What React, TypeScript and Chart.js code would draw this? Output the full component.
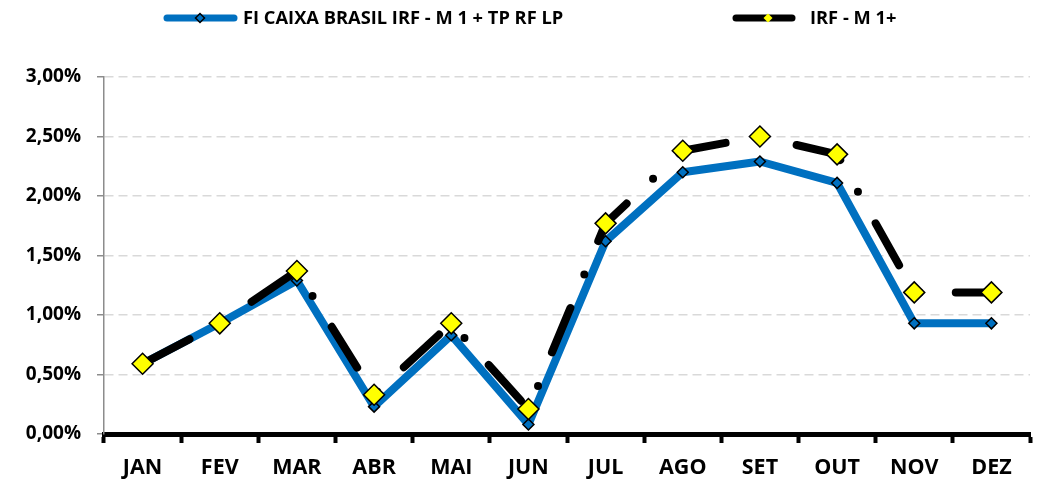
import React, { useEffect, useRef } from 'react';
import { Chart, registerables } from 'chart.js';

Chart.register(...registerables);

const months = ['JAN', 'FEV', 'MAR', 'ABR', 'MAI', 'JUN', 'JUL', 'AGO', 'SET', 'OUT', 'NOV', 'DEZ'];
const fundValues = [0.59, 0.93, 1.29, 0.23, 0.83, 0.08, 1.62, 2.2, 2.29, 2.11, 0.93, 0.93];
const benchmarkValues = [0.59, 0.93, 1.37, 0.33, 0.93, 0.21, 1.77, 2.38, 2.5, 2.35, 1.19, 1.19];
const yMin = 0;
const yMax = 3;
const yStep = 0.5;
const fundLabel = 'FI CAIXA BRASIL IRF - M 1 + TP RF LP';
const benchLabel = 'IRF - M 1+';

const BLUE = '#0070C0';
const YELLOW = '#FFFF00';
const FONT = '"Open Sans", "DejaVu Sans", sans-serif';

function diamond(ctx: CanvasRenderingContext2D, x: number, y: number, r: number, fill: string, stroke: string, lw: number) {
  ctx.beginPath();
  ctx.moveTo(x - r, y);
  ctx.lineTo(x, y - r);
  ctx.lineTo(x + r, y);
  ctx.lineTo(x, y + r);
  ctx.closePath();
  ctx.fillStyle = fill;
  ctx.fill();
  if (lw > 0) {
    ctx.lineWidth = lw;
    ctx.strokeStyle = stroke;
    ctx.stroke();
  }
}

const legendPlugin = {
  id: 'customLegend',
  afterDraw(chart: any) {
    const ctx: CanvasRenderingContext2D = chart.ctx;
    ctx.save();
    const ly = 18;
    ctx.lineCap = 'round';
    // item 1
    ctx.strokeStyle = BLUE;
    ctx.lineWidth = 7;
    ctx.beginPath();
    ctx.moveTo(167, ly);
    ctx.lineTo(234, ly);
    ctx.stroke();
    diamond(ctx, 200, ly, 4.5, BLUE, '#000', 1.5);
    // item 2
    ctx.strokeStyle = '#000';
    ctx.lineWidth = 7;
    ctx.beginPath();
    ctx.moveTo(736, ly);
    ctx.lineTo(792, ly);
    ctx.stroke();
    diamond(ctx, 768, ly, 4.5, YELLOW, '#000', 0);
    ctx.fillStyle = '#000';
    ctx.textBaseline = 'middle';
    ctx.textAlign = 'left';
    ctx.font = `bold 18.3px ${FONT}`;
    ctx.fillText(fundLabel, 243, ly + 1);
    ctx.fillText(benchLabel, 810, ly + 1);
    ctx.restore();
  },
};

export default function App() {
  const ref = useRef<HTMLCanvasElement | null>(null);

  useEffect(() => {
    if (!ref.current) return;
    const chart = new Chart(ref.current, {
      type: 'line',
      data: {
        labels: months,
        datasets: [
          {
            label: fundLabel,
            data: fundValues,
            borderColor: BLUE,
            backgroundColor: BLUE,
            borderWidth: 8,
            borderCapStyle: 'round',
            borderJoinStyle: 'round',
            tension: 0,
            pointStyle: 'rectRot',
            pointRadius: 5.5,
            pointBackgroundColor: BLUE,
            pointBorderColor: '#000',
            pointBorderWidth: 1.5,
            order: 2,
          },
          {
            label: benchLabel,
            data: benchmarkValues,
            borderColor: '#000',
            backgroundColor: '#000',
            borderWidth: 8,
            borderDash: [48, 36.3, 0, 36.3],
            borderDashOffset: -5,
            borderCapStyle: 'round',
            borderJoinStyle: 'round',
            tension: 0,
            pointStyle: 'rectRot',
            pointRadius: 10.5,
            pointBackgroundColor: YELLOW,
            pointBorderColor: '#000',
            pointBorderWidth: 1.5,
            order: 1,
          },
        ],
      },
      options: {
        animation: false,
        responsive: false,
        layout: { padding: { top: 77, right: 11, left: 0, bottom: 0 } },
        plugins: {
          legend: { display: false },
          tooltip: { enabled: false },
        },
        scales: {
          x: {
            type: 'category',
            offset: true,
            grid: {
              offset: true,
              drawOnChartArea: false,
              drawTicks: true,
              tickLength: 9,
              tickWidth: 4,
              tickColor: '#000',
            },
            border: { display: true, color: '#000', width: 5 },
            ticks: {
              color: '#000',
              font: { family: FONT, weight: 'bold', size: 21.5 },
              padding: 12,
              maxRotation: 0,
            },
            afterFit: (scale: any) => {
              scale.height = 45;
            },
          },
          y: {
            min: yMin,
            max: yMax,
            grid: {
              color: '#D9D9D9',
              lineWidth: 1.5,
              tickColor: '#8C8C8C',
              tickLength: 7,
              tickWidth: 1.5,
              tickBorderDash: [],
            },
            border: { display: true, color: '#8C8C8C', width: 1.5, dash: [9, 5] },
            ticks: {
              stepSize: yStep,
              color: '#000',
              font: { family: FONT, weight: 'bold', size: 19 },
              padding: 16,
              callback: (v: any) => Number(v).toFixed(2).replace('.', ',') + '%',
            },
            afterFit: (scale: any) => {
              scale.width = 104;
            },
          },
        },
      },
      plugins: [legendPlugin],
    } as any);
    return () => chart.destroy();
  }, []);

  return (
    <div style={{ position: 'fixed', left: 0, top: 0, width: 1042, height: 479, background: '#fff' }}>
      <canvas ref={ref} width={1042} height={479} style={{ display: 'block' }} />
    </div>
  );
}
